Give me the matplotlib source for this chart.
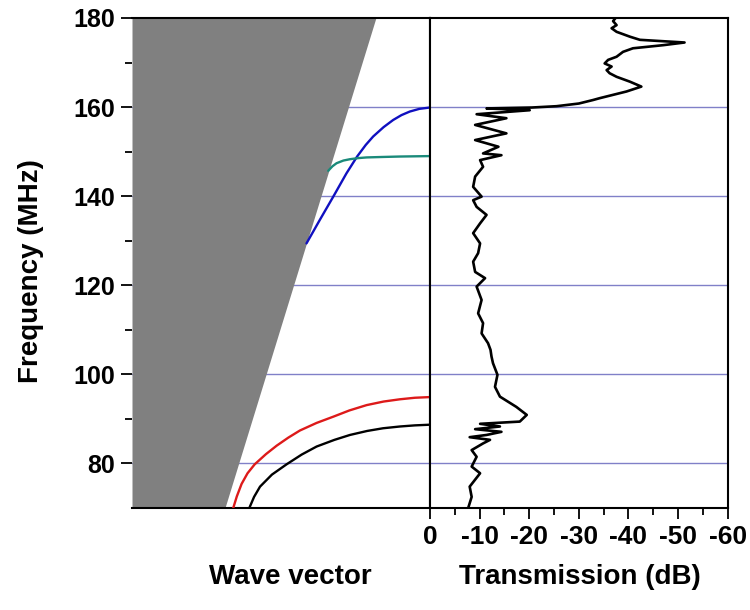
import numpy as np
import matplotlib
matplotlib.use('Agg')
import matplotlib.pyplot as plt

plt.rcParams['font.family'] = ['Liberation Sans', 'DejaVu Sans']
plt.rcParams['font.weight'] = 'bold'

# light line (grey region edge): wave vector, frequency
light_k = [-0.688, -0.181]
light_f = [70, 180]

# dispersion curves (wave vector in arbitrary units, 0 at right edge)
black_k = [-0.606, -0.59, -0.570, -0.53, -0.481, -0.43, -0.380, -0.32, -0.268,
           -0.21, -0.157, -0.10, -0.05, 0.0]
black_f = [70.0, 72.5, 74.8, 77.5, 79.8, 82.0, 83.8, 85.3, 86.4,
           87.3, 87.9, 88.3, 88.55, 88.7]
red_k = [-0.660, -0.648, -0.632, -0.612, -0.588, -0.55, -0.514, -0.475, -0.436,
         -0.38, -0.324, -0.27, -0.212, -0.155, -0.101, -0.05, 0.0]
red_f = [70.0, 72.6, 75.4, 77.8, 79.8, 82.1, 84.0, 85.8, 87.4,
         89.1, 90.5, 91.9, 93.1, 93.9, 94.4, 94.75, 94.9]
blue_k = [-0.414, -0.369, -0.324, -0.280, -0.244, -0.215, -0.190, -0.155, -0.123,
          -0.095, -0.067, -0.035, 0.0]
blue_f = [129.4, 134.7, 139.9, 145.1, 148.9, 151.5, 153.4, 155.5, 157.1,
          158.2, 159.0, 159.6, 159.9]
green_k = [-0.341, -0.327, -0.313, -0.29, -0.268, -0.24, -0.212, -0.16, -0.101, -0.05, 0.0]
green_f = [145.7, 146.7, 147.4, 148.0, 148.3, 148.55, 148.7, 148.8, 148.9, 148.95, 149.0]

# band lines
band_f = [80, 100, 120, 140, 160]

# measured transmission
trans_f = [70.0, 72.5, 74.8, 77.8, 79.3, 81.5, 83.0, 84.5, 85.3, 85.9, 86.4, 87.1,
           87.7, 88.3, 88.9, 89.4, 90.9, 92.7, 95.0, 97.2, 99.9, 102.5, 104.0, 105.5,
           107.0, 109.2, 111.5, 113.7, 116.7, 119.7, 121.6, 123.0, 125.3, 127.2, 129.4,
           131.7, 133.9, 135.8, 137.6, 139.1, 139.9, 142.1, 144.4, 146.6, 148.1, 149.2,
           149.6, 151.1, 152.6, 154.1, 156.0, 157.5, 158.4, 159.3, 159.7, 159.9, 160.2,
           160.8, 161.6, 162.0, 163.5, 164.6, 165.7, 166.8, 167.6, 168.3, 169.1, 169.8,
           170.6, 171.3, 172.4, 173.2, 173.9, 174.5, 175.1, 175.8, 176.9, 177.7, 178.4,
           179.3, 180.0]
trans_db = [-7.7, -8.4, -8.0, -10.1, -8.4, -9.4, -8.4, -10.7, -12.1, -8.0, -11.4, -14.4,
            -9.1, -14.1, -10.1, -18.1, -19.5, -17.4, -14.1, -13.1, -13.6, -12.7, -12.4, -12.2,
            -11.7, -10.4, -10.7, -9.7, -10.4, -9.4, -11.1, -9.1, -8.7, -9.7, -10.1,
            -8.7, -10.1, -11.4, -9.4, -8.7, -10.4, -8.7, -9.1, -10.7, -10.1, -14.4,
            -10.7, -13.8, -9.1, -15.4, -9.1, -15.4, -9.4, -20.1, -11.4, -20.5, -25.5,
            -30.0, -32.9, -34.2, -39.6, -42.6, -40.3, -37.6, -36.2, -35.6, -36.6, -35.2,
            -35.9, -37.6, -38.9, -40.9, -47.0, -51.3, -42.3, -40.3, -37.6, -36.6, -37.6,
            -36.9, -37.4]

x_ticks = [0, -10, -20, -30, -40, -50, -60]

fig = plt.figure(figsize=(7.5, 6.1), dpi=100)
ax1 = fig.add_axes([0.176, 0.1672, 0.397, 0.8033])
ax2 = fig.add_axes([0.5733, 0.1672, 0.397, 0.8033], sharey=ax1)

grid_col = '#8080c8'
for f in band_f:
    ax1.axhline(f, color=grid_col, lw=1.0, zorder=1)
    ax2.axhline(f, color=grid_col, lw=1.0, zorder=1)

# grey region left of light line
ax1.fill_betweenx(light_f, [-1, -1], light_k, color='#808080', lw=0, zorder=2)

kw = dict(lw=1.7, zorder=3, solid_joinstyle='round', solid_capstyle='round')
ax1.plot(black_k, black_f, color='black', **kw)
ax1.plot(red_k, red_f, color='#dd1a1a', **kw)
ax1.plot(blue_k, blue_f, color='#1010c0', **kw)
ax1.plot(green_k, green_f, color='#1a8a7a', **kw)

ax1.set_xlim(-1, 0)
ax1.set_ylim(70, 180)
ax1.set_xticks([])
ax1.spines['left'].set_visible(False)
for s in ['top', 'bottom', 'right']:
    ax1.spines[s].set_linewidth(1.5)
ax1.set_yticks([80, 100, 120, 140, 160, 180])
ax1.set_yticks([90, 110, 130, 150, 170], minor=True)
ax1.tick_params(axis='y', which='major', direction='out', length=8, width=1.3,
                labelsize=18, pad=4)
ax1.tick_params(axis='y', which='minor', direction='out', length=5, width=1.3)
for lab in ax1.get_yticklabels():
    lab.set_fontweight('bold')

ax2.plot(trans_db, trans_f, color='black', lw=1.9, zorder=3,
         solid_joinstyle='round', solid_capstyle='round')
ax2.set_xlim(0, -60)
ax2.set_xticks(x_ticks)
ax2.set_xticklabels([str(v) for v in x_ticks], fontweight='bold')
ax2.set_xticks([-5, -15, -25, -35, -45, -55], minor=True)
ax2.tick_params(axis='x', which='major', direction='out', length=8, width=1.3,
                labelsize=19, pad=4)
ax2.tick_params(axis='x', which='minor', direction='out', length=5, width=1.3)
ax2.tick_params(axis='y', which='both', left=False, labelleft=False)
for s in ax2.spines.values():
    s.set_linewidth(1.5)

fig.text(0.042, 0.556, 'Frequency (MHz)', rotation=90, ha='center', va='center',
         fontsize=20, fontweight='bold')
fig.text(0.387, 0.054, 'Wave vector', ha='center', va='center',
         fontsize=20, fontweight='bold')
fig.text(0.773, 0.054, 'Transmission (dB)', ha='center', va='center',
         fontsize=20, fontweight='bold')

fig.savefig('out.png', dpi=100)
